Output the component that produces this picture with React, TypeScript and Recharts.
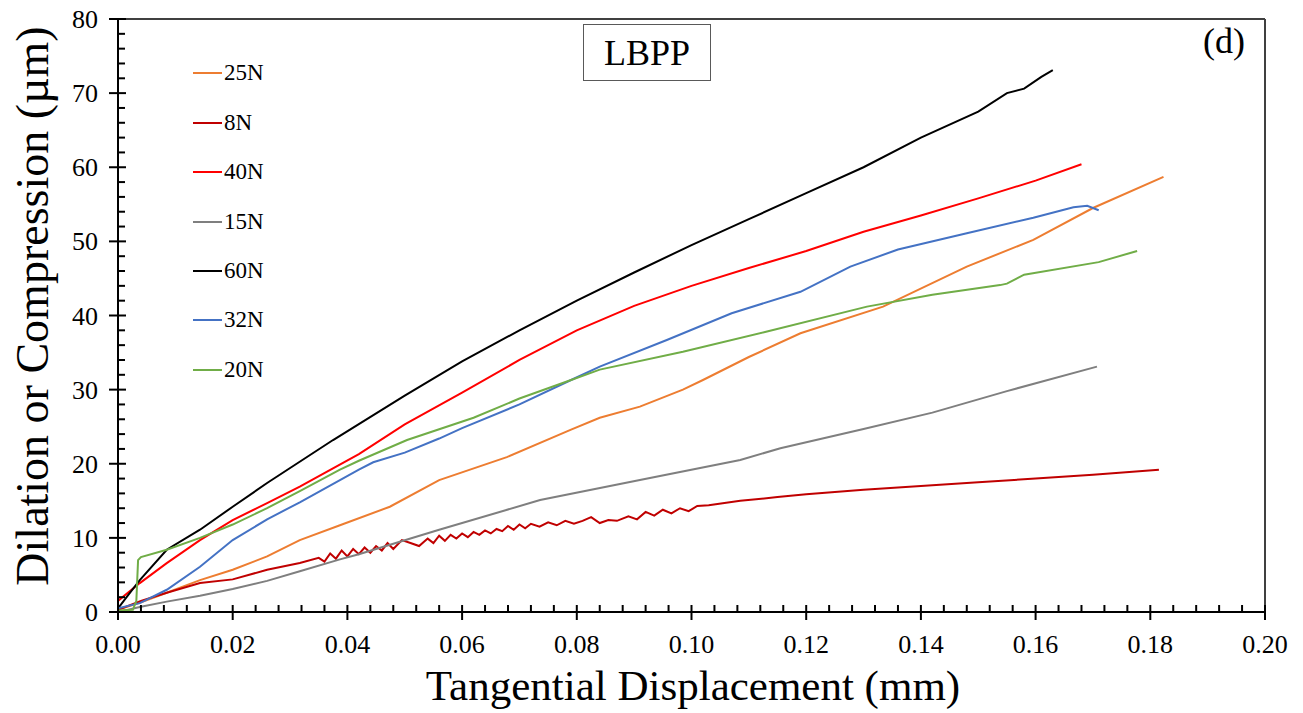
import React from 'react';
import { LineChart, Line, XAxis, YAxis, ReferenceLine } from 'recharts';

const FONT = "'Liberation Serif', 'Times New Roman', serif";

// series: [tangential displacement (mm), dilation (µm)]
const s25N: [number, number][] = [
  [0, 0.3], [0.004, 1.3], [0.0085, 2.6], [0.0143, 4.3], [0.02, 5.7], [0.026, 7.5], [0.0317, 9.7],
  [0.0387, 11.7], [0.0474, 14.2], [0.056, 17.8], [0.0678, 20.9], [0.079, 24.6], [0.084, 26.2],
  [0.091, 27.7], [0.0985, 30], [0.102, 31.3], [0.11, 34.4], [0.119, 37.6], [0.1334, 41.2],
  [0.148, 46.6], [0.1596, 50.2], [0.17, 54.5], [0.1823, 58.7],
];
const s8N: [number, number][] = [
  [0, 0.3], [0.004, 1.5], [0.0085, 2.6], [0.0143, 3.9], [0.02, 4.4], [0.026, 5.7], [0.0317, 6.6],
  [0.035, 7.3], [0.036, 6.8], [0.037, 7.9], [0.038, 7.2], [0.039, 8.3], [0.04, 7.5], [0.041, 8.5],
  [0.042, 7.8], [0.043, 8.7], [0.044, 8.0], [0.045, 8.9], [0.046, 8.3], [0.047, 9.3], [0.048, 8.5],
  [0.0495, 9.7], [0.051, 9.3], [0.0525, 8.9], [0.054, 9.9], [0.055, 9.3], [0.056, 10.3], [0.057, 9.6],
  [0.058, 10.4], [0.059, 9.9], [0.06, 10.6], [0.061, 10.1], [0.062, 10.8], [0.063, 10.4], [0.064, 11.0],
  [0.065, 10.6], [0.066, 11.2], [0.067, 10.9], [0.068, 11.6], [0.069, 11.1], [0.07, 11.8], [0.071, 11.3],
  [0.072, 11.9], [0.0735, 11.5], [0.075, 12.1], [0.0765, 11.7], [0.078, 12.3], [0.0795, 11.9],
  [0.081, 12.3], [0.0825, 12.8], [0.084, 12.0], [0.0855, 12.4], [0.087, 12.3], [0.089, 12.9],
  [0.0905, 12.5], [0.092, 13.5], [0.0935, 13.0], [0.095, 13.8], [0.0965, 13.3], [0.098, 14.0],
  [0.0995, 13.6], [0.101, 14.3], [0.103, 14.4], [0.1085, 15.0], [0.115, 15.5], [0.12, 15.9],
  [0.13, 16.5], [0.14, 17.0], [0.15, 17.5], [0.16, 18.0], [0.17, 18.5], [0.1815, 19.2],
];
const s40N: [number, number][] = [
  [0, 1.5], [0.0038, 3.9], [0.0085, 6.6], [0.0143, 9.7], [0.02, 12.4], [0.026, 14.7], [0.0317, 16.9],
  [0.042, 21.3], [0.05, 25.3], [0.06, 29.6], [0.07, 34], [0.08, 38], [0.09, 41.3], [0.1, 44],
  [0.11, 46.4], [0.12, 48.7], [0.13, 51.3], [0.14, 53.5], [0.15, 55.8], [0.16, 58.2], [0.168, 60.4],
];
const s15N: [number, number][] = [
  [0, 0], [0.004, 0.7], [0.0085, 1.4], [0.0143, 2.2], [0.02, 3.1], [0.026, 4.2], [0.0317, 5.5],
  [0.0387, 7.1], [0.042, 7.8], [0.056, 11.1], [0.0736, 15.1], [0.091, 17.8], [0.1085, 20.5],
  [0.1155, 22.1], [0.13, 24.7], [0.142, 26.9], [0.155, 29.8], [0.1707, 33.1],
];
const s60N: [number, number][] = [
  [0, 0.5], [0.002, 2.5], [0.0038, 4.3], [0.0085, 8.4], [0.0143, 11.1], [0.02, 14.2], [0.026, 17.4],
  [0.0375, 23.2], [0.05, 29.2], [0.06, 33.8], [0.07, 38], [0.08, 42], [0.09, 45.8], [0.1, 49.5],
  [0.11, 53], [0.12, 56.5], [0.13, 60], [0.14, 64], [0.15, 67.5], [0.155, 70], [0.158, 70.6],
  [0.161, 72.2], [0.163, 73.1],
];
const s32N: [number, number][] = [
  [0, 0.5], [0.0038, 1.2], [0.0085, 3], [0.0143, 6.1], [0.02, 9.7], [0.026, 12.5], [0.0317, 14.8],
  [0.0387, 17.8], [0.042, 19.2], [0.0445, 20.2], [0.05, 21.5], [0.056, 23.4], [0.06, 24.8],
  [0.07, 28.0], [0.079, 31.3], [0.084, 33.1], [0.0957, 36.7], [0.107, 40.3], [0.119, 43.2],
  [0.1277, 46.6], [0.136, 48.9], [0.148, 51.1], [0.1596, 53.2], [0.1666, 54.6], [0.169, 54.8],
  [0.171, 54.2],
];
const s20N: [number, number][] = [
  [0, 0.2], [0.0026, 0.3], [0.0032, 1.5], [0.0035, 7], [0.004, 7.4], [0.0085, 8.4], [0.0143, 10],
  [0.02, 11.8], [0.026, 14.0], [0.0317, 16.3], [0.0387, 19.2], [0.042, 20.4], [0.0504, 23.2],
  [0.062, 26.2], [0.07, 28.8], [0.079, 31.3], [0.084, 32.7], [0.0985, 35.1], [0.113, 37.8],
  [0.1306, 41.2], [0.142, 42.8], [0.1538, 44.1], [0.155, 44.3], [0.158, 45.5], [0.171, 47.2],
  [0.1777, 48.7],
];

const seriesNames = ['25N', '8N', '40N', '15N', '60N', '32N', '20N'];
const seriesColors = ['#ED7D31', '#C00000', '#FF0000', '#7F7F7F', '#000000', '#4472C4', '#70AD47'];
const seriesData = [s25N, s8N, s40N, s15N, s60N, s32N, s20N];

const xMajor = [0, 0.02, 0.04, 0.06, 0.08, 0.1, 0.12, 0.14, 0.16, 0.18, 0.2];
const yMajor = [0, 10, 20, 30, 40, 50, 60, 70, 80];
// minor ticks: 5 per major interval
const xTicks = Array.from({ length: 51 }, (_, i) => +(i * 0.004).toFixed(3));
const yTicks = Array.from({ length: 41 }, (_, i) => i * 2);

const isMajorX = (v: number) => xMajor.some(m => Math.abs(m - v) < 1e-6);
const isMajorY = (v: number) => yMajor.includes(v);

function XTick(props: any) {
  const { x, y, payload } = props;
  const v = payload.value;
  if (!isMajorX(v)) {
    return <line x1={x} x2={x} y1={y - 7} y2={y} stroke="#000" strokeWidth={2} />;
  }
  return (
    <g>
      <line x1={x} x2={x} y1={y - 7} y2={y + 8} stroke="#000" strokeWidth={2} />
      <text x={x} y={y + 41} textAnchor="middle" fontSize={26} fontFamily={FONT} fill="#000">
        {v.toFixed(2)}
      </text>
    </g>
  );
}

function YTick(props: any) {
  const { x, y, payload } = props;
  const v = payload.value;
  if (!isMajorY(v)) {
    return <line x1={x} x2={x + 7} y1={y} y2={y} stroke="#000" strokeWidth={2} />;
  }
  return (
    <g>
      <line x1={x - 9} x2={x + 8} y1={y} y2={y} stroke="#000" strokeWidth={2} />
      <text x={x - 20} y={y + 9} textAnchor="end" fontSize={26} fontFamily={FONT} fill="#000">
        {v}
      </text>
    </g>
  );
}

export default function App() {
  return (
    <div style={{ position: 'absolute', left: 0, top: 0, width: 1303, height: 713, background: '#fff', fontFamily: FONT }}>
      <LineChart width={1303} height={713} margin={{ top: 19, right: 38, bottom: 0, left: 0 }}>
        <XAxis
          type="number"
          dataKey="x"
          domain={[0, 0.2]}
          ticks={xTicks}
          interval={0}
          tick={XTick}
          tickLine={false}
          tickSize={0}
          tickMargin={0}
          height={101}
          allowDataOverflow
          axisLine={{ stroke: '#000', strokeWidth: 2 }}
        />
        <YAxis
          type="number"
          domain={[0, 80]}
          ticks={yTicks}
          interval={0}
          tick={YTick}
          tickLine={false}
          tickSize={0}
          tickMargin={0}
          width={118}
          allowDataOverflow
          axisLine={{ stroke: '#000', strokeWidth: 2 }}
        />
        <ReferenceLine y={80} stroke="#404040" strokeWidth={2} />
        <ReferenceLine x={0.2} stroke="#404040" strokeWidth={2} />
        {seriesData.map((s, i) => (
          <Line
            key={seriesNames[i]}
            data={s.map(([x, y]) => ({ x, y }))}
            dataKey="y"
            name={seriesNames[i]}
            type="linear"
            stroke={seriesColors[i]}
            strokeWidth={2}
            dot={false}
            activeDot={false}
            isAnimationActive={false}
          />
        ))}
      </LineChart>

      {/* axis titles */}
      <svg width={1303} height={713} style={{ position: 'absolute', left: 0, top: 0, pointerEvents: 'none' }}>
        <text x={693} y={700} textAnchor="middle" fontSize={43} fontFamily={FONT} fill="#000">
          Tangential Displacement (mm)
        </text>
        <text x={48} y={306} textAnchor="middle" fontSize={46} fontFamily={FONT} fill="#000" transform="rotate(-90 48 306)">
          Dilation or Compression (µm)
        </text>
      </svg>

      {/* legend */}
      {seriesNames.map((n, i) => (
        <div
          key={n}
          style={{ position: 'absolute', left: 193, top: 73.3 + i * 49.4 - 15, height: 30, display: 'flex', alignItems: 'center' }}
        >
          <div style={{ width: 29, height: 2, background: seriesColors[i] }} />
          <span style={{ fontSize: 23, marginLeft: 2, color: '#000' }}>{n}</span>
        </div>
      ))}

      <div
        style={{
          position: 'absolute', left: 583, top: 24, width: 126, height: 55, border: '1px solid #595959',
          display: 'flex', alignItems: 'center', justifyContent: 'center', fontSize: 36, background: '#fff',
        }}
      >
        LBPP
      </div>
      <div style={{ position: 'absolute', left: 1203, top: 21, fontSize: 36, lineHeight: '40px' }}>(d)</div>
    </div>
  );
}
